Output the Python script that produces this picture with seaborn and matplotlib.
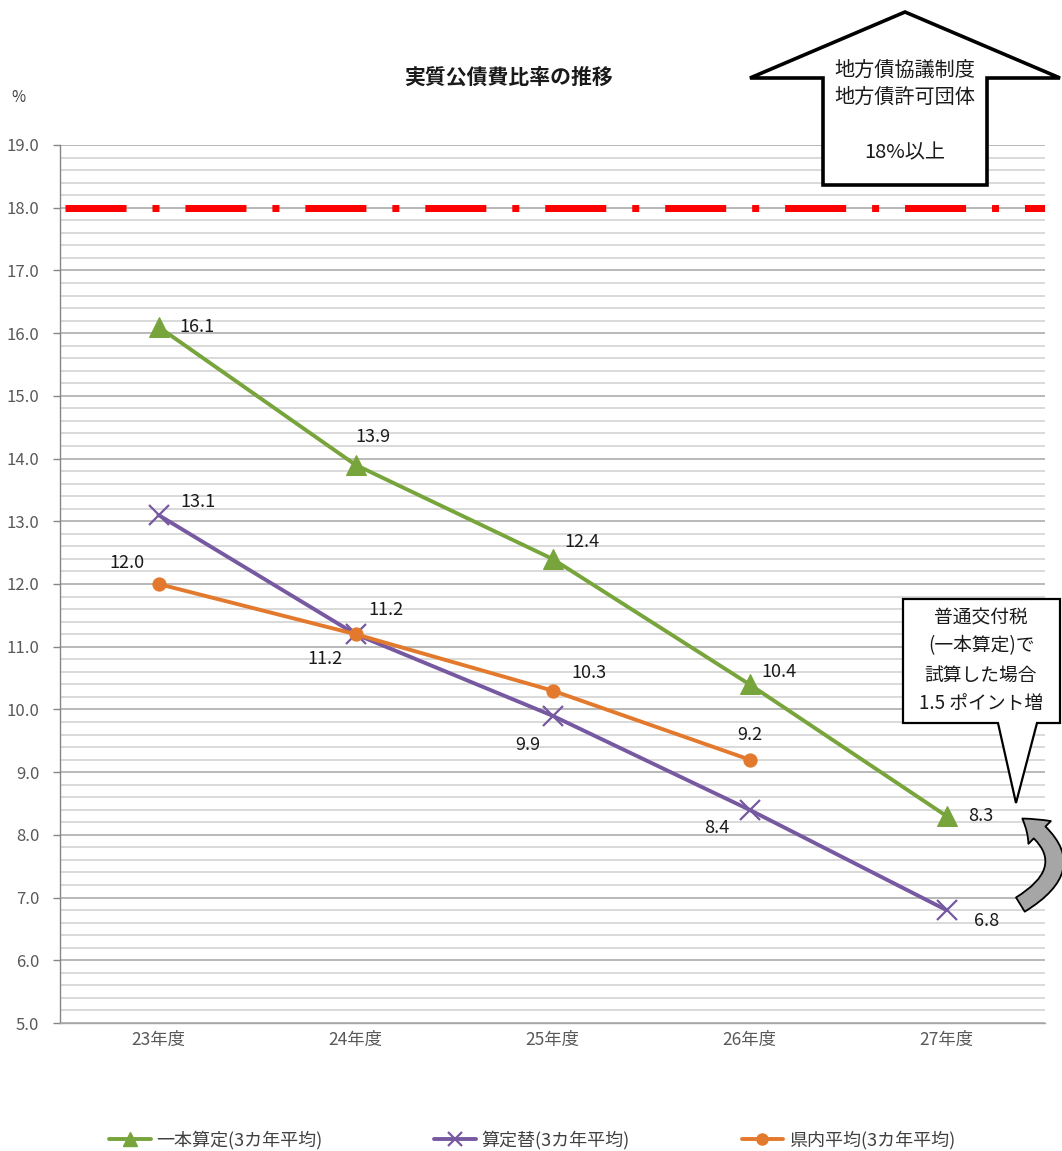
import matplotlib
matplotlib.use("Agg")
import matplotlib.pyplot as plt
import seaborn as sns
import numpy as np
from matplotlib.patches import Polygon, FancyArrowPatch
from matplotlib.lines import Line2D
from matplotlib.ticker import MultipleLocator

# ---- data ----
categories = ["23年度", "24年度", "25年度", "26年度", "27年度"]
ippon = [16.1, 13.9, 12.4, 10.4, 8.3]
santei = [13.1, 11.2, 9.9, 8.4, 6.8]
kennai = [12.0, 11.2, 10.3, 9.2, np.nan]
series_names = ["一本算定(3カ年平均)", "算定替(3カ年平均)", "県内平均(3カ年平均)"]
threshold = 18.0
y_ticks = [5.0, 6.0, 7.0, 8.0, 9.0, 10.0, 11.0, 12.0, 13.0, 14.0, 15.0, 16.0, 17.0, 18.0, 19.0]

# label offsets in pixels (dx, dy)
off_ippon = [(38, 0), (17, 28), (29, 17), (29, 12), (34, 0)]
off_santei = [(39, 13), (-31, -25), (-25, -29), (-33, -18), (40, -11)]
off_kennai = [(-32, 21), (30, 24), (36, 18), (0, 25), None]

sns.set_theme(style="white")
plt.rcParams["font.family"] = ["Noto Sans CJK JP", "DejaVu Sans"]

W, H = 1062, 1151
fig = plt.figure(figsize=(W / 100, H / 100), dpi=100)
ax = fig.add_axes([60 / W, 1 - 1023 / H, 985 / W, (1023 - 145) / H])

def P(x, y):
    return (x / W, 1 - y / H)

x = np.arange(len(categories))
GREEN = "#77A43B"
PURPLE = "#7659A0"
ORANGE = "#E3792C"

# grid
ax.set_ylim(5, 19)
ax.set_xlim(-0.5, len(categories) - 0.5)
ax.yaxis.set_major_locator(MultipleLocator(1.0))
ax.yaxis.set_minor_locator(MultipleLocator(0.2))
ax.grid(True, which="major", axis="y", color="#A6A6A6", lw=1.1, zorder=0)
ax.grid(True, which="minor", axis="y", color="#CFCFCF", lw=1.1, zorder=0)
ax.grid(False, axis="x")
ax.set_axisbelow(True)

# threshold line
ax.axhline(threshold, xmin=5 / 985, xmax=1, color="#FF0000", lw=5.05,
           dashes=(8.7, 3.7, 1, 3.7), solid_capstyle="butt", dash_capstyle="butt", zorder=2)

sns.lineplot(x=x, y=ippon, ax=ax, color=GREEN, lw=2.8, marker="^", ms=15,
             mec=GREEN, mfc=GREEN, sort=False, zorder=4)
sns.lineplot(x=x, y=santei, ax=ax, color=PURPLE, lw=2.8, marker="x", ms=15,
             mew=1.6, mec=PURPLE, sort=False, zorder=3)
kx = [xi for xi, v in zip(x, kennai) if not np.isnan(v)]
kv = [v for v in kennai if not np.isnan(v)]
sns.lineplot(x=kx, y=kv, ax=ax, color=ORANGE, lw=2.8, marker="o", ms=9.5,
             mec=ORANGE, mfc=ORANGE, sort=False, zorder=5)

def labels(vals, offs):
    for xi, v, o in zip(x, vals, offs):
        if o is None or np.isnan(v):
            continue
        ax.annotate(f"{v:.1f}", (xi, v), xytext=o, textcoords="offset pixels",
                    ha="center", va="center", fontsize=13, color="#1A1A1A", zorder=6)

labels(ippon, off_ippon)
labels(santei, off_santei)
labels(kennai, off_kennai)

# axes styling
ax.set_xticks(x)
ax.set_xticklabels(categories, fontsize=12.5, color="#595959")
ax.set_yticks(y_ticks)
ax.set_yticklabels([f"{t:.1f}" for t in y_ticks], fontsize=12, color="#595959")
ax.tick_params(axis="y", which="major", length=5, color="#868686", width=1, pad=10, left=True)
ax.tick_params(axis="y", which="minor", length=0)
ax.tick_params(axis="x", length=0, pad=6)
for s in ["top", "right"]:
    ax.spines[s].set_visible(False)
ax.spines["left"].set_color("#868686")
ax.spines["bottom"].set_color("#A6A6A6")
ax.spines["left"].set_linewidth(1)
ax.spines["bottom"].set_linewidth(1)
ax.set_xlabel("")
ax.set_ylabel("")

# title and unit
fig.text(*P(508, 77), "実質公債費比率の推移", ha="center", va="center",
         fontsize=15, fontweight="bold", color="#1A1A1A")
fig.text(*P(18, 98), "%", ha="center", va="center", fontsize=11, color="#404040")

# up arrow callout
arrow_pts = [P(905, 12), P(1060, 78), P(987, 78), P(987, 185), P(823, 185), P(823, 78), P(750, 78)]
fig.add_artist(Polygon(arrow_pts, closed=True, transform=fig.transFigure, fc="white",
                       ec="black", lw=2.6, zorder=10, joinstyle="miter"))
for ty, t in [(70, "地方債協議制度"), (97, "地方債許可団体"), (153, "18%以上")]:
    fig.text(*P(905, ty), t, ha="center", va="center", fontsize=14.5, color="#1A1A1A", zorder=11)

# speech bubble callout
bub = [P(903, 599), P(1060, 599), P(1060, 723), P(1037, 723), P(1016, 803), P(998, 723), P(903, 723)]
fig.add_artist(Polygon(bub, closed=True, transform=fig.transFigure, fc="white",
                       ec="black", lw=1.6, zorder=10, joinstyle="miter"))
for ty, t in [(618, "普通交付税"), (646, "(一本算定)で"), (675, "試算した場合"), (703, "1.5 ポイント増")]:
    fig.text(*P(981, ty), t, ha="center", va="center", fontsize=13.5, color="#1A1A1A", zorder=11)

# curved arrow
fa = FancyArrowPatch(posA=P(1018, 906), posB=P(1020, 817), transform=fig.transFigure,
                     connectionstyle="arc3,rad=0.8",
                     arrowstyle="simple,head_length=0.8,head_width=1.15,tail_width=0.6",
                     mutation_scale=20, fc="#A6A6A6", ec="black", lw=1.3, zorder=10)
fig.add_artist(fa)

# legend
handles = [
    Line2D([], [], color=GREEN, lw=2.8, marker="^", ms=10, mfc=GREEN, mec=GREEN),
    Line2D([], [], color=PURPLE, lw=2.8, marker="x", ms=10, mew=1.6, mec=PURPLE),
    Line2D([], [], color=ORANGE, lw=2.8, marker="o", ms=8, mfc=ORANGE, mec=ORANGE),
]
leg = fig.legend(handles, series_names, loc="center", bbox_to_anchor=(0.501, 1 - 1140 / H),
                 ncol=3, frameon=False, fontsize=13, handlelength=2.3, handletextpad=0.3,
                 columnspacing=6.2)
for t in leg.get_texts():
    t.set_color("#404040")

fig.savefig("out.png", dpi=100, facecolor="white")
